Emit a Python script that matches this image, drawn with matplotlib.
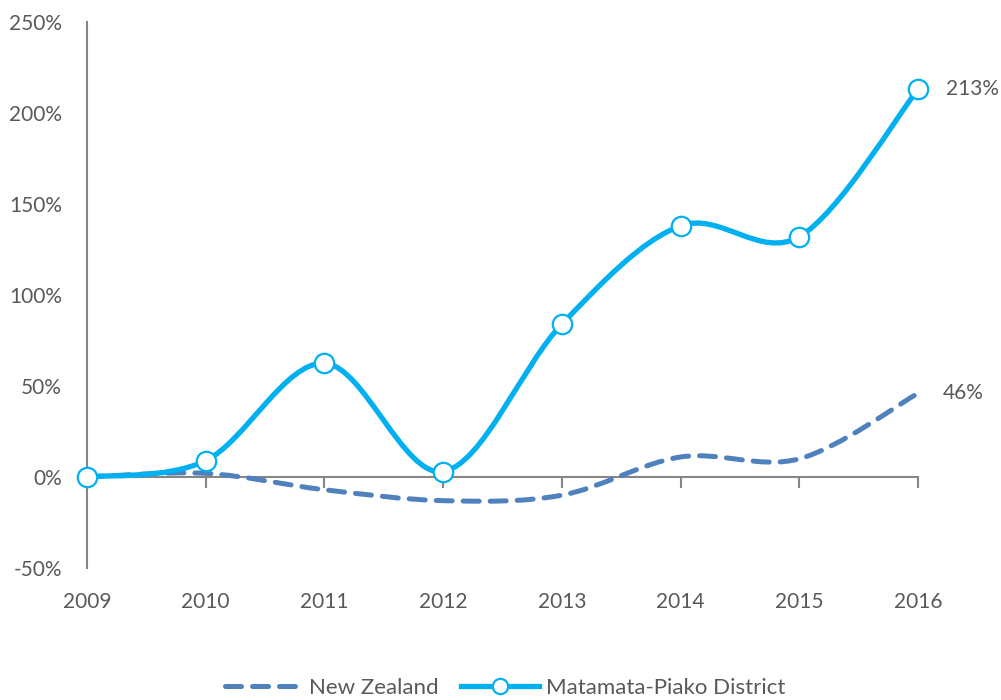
import matplotlib
matplotlib.use("Agg")
import matplotlib.pyplot as plt
from matplotlib.path import Path
from matplotlib.patches import PathPatch
from matplotlib.lines import Line2D
import numpy as np

years = [2009, 2010, 2011, 2012, 2013, 2014, 2015, 2016]
nz = [0, 2, -7, -13, -10, 11, 10, 46]
mp = [0, 9, 62.5, 3, 84, 138, 132, 213]
yticks = [-50, 0, 50, 100, 150, 200, 250]

plt.rcParams['font.family'] = ['Lato', 'DejaVu Sans']
TXT = '#595959'
AX = '#868686'
C_MP = '#00B0F0'
C_NZ = '#4F81BD'
FS = 15

fig = plt.figure(figsize=(10.01, 7.0), dpi=100)
ax = fig.add_axes([87/1001, 1 - 568/700, (918-87)/1001, (568-22)/700])
ax.set_xlim(years[0], years[-1])
ax.set_ylim(-50, 250)


def smooth_path(xs, ys):
    pts = np.column_stack([xs, ys]).astype(float)
    n = len(pts)
    verts = [pts[0]]
    codes = [Path.MOVETO]
    for i in range(n - 1):
        p0 = pts[i - 1] if i > 0 else pts[i]
        p1 = pts[i]
        p2 = pts[i + 1]
        p3 = pts[i + 2] if i + 2 < n else pts[i + 1]
        c1 = p1 + (p2 - p0) / 6.0
        c2 = p2 - (p3 - p1) / 6.0
        verts += [c1, c2, p2]
        codes += [Path.CURVE4] * 3
    return Path(verts, codes)


nz_patch = PathPatch(smooth_path(years, nz), facecolor='none', edgecolor=C_NZ,
                     lw=3.6, linestyle=(0, (3.2, 2.2)), capstyle='round', zorder=3,
                     clip_on=False)
ax.add_patch(nz_patch)
mp_patch = PathPatch(smooth_path(years, mp), facecolor='none', edgecolor=C_MP,
                     lw=3.8, capstyle='round', zorder=4, clip_on=False)
ax.add_patch(mp_patch)
ax.plot(years, mp, linestyle='none', marker='o', ms=14, mfc='white', mec=C_MP,
        mew=1.6, zorder=5, clip_on=False)

# spines
for s in ['top', 'right', 'bottom']:
    ax.spines[s].set_visible(False)
ax.spines['left'].set_color(AX)
ax.spines['left'].set_linewidth(1.5)
ax.set_yticks(yticks)
ax.set_yticklabels([f'{v}%' for v in yticks])
ax.tick_params(axis='y', length=0, pad=18, labelsize=FS, labelcolor=TXT)

ax.set_xticks(years)
ax.set_xticklabels([str(y) for y in years])
ax.tick_params(axis='x', length=0, pad=17, labelsize=FS, labelcolor=TXT)

zero_frac = (0 - (-50)) / 300
sec = ax.secondary_xaxis(zero_frac)
sec.set_xticks(years)
sec.set_xticklabels([])
sec.tick_params(axis='x', direction='out', length=8, width=1.5, color=AX)
sec.spines['bottom'].set_color(AX)
sec.spines['bottom'].set_linewidth(1.5)
for s in ['top', 'left', 'right']:
    sec.spines[s].set_visible(False)

# data labels
ax.annotate(f'{mp[-1]:.0f}%', (years[-1], mp[-1]), xytext=(20, 0),
            textcoords='offset points', va='center', ha='left', fontsize=FS, color=TXT)
ax.annotate(f'{nz[-1]:.0f}%', (years[-1], nz[-1]), xytext=(18, 0),
            textcoords='offset points', va='center', ha='left', fontsize=FS, color=TXT)

handles = [
    Line2D([], [], color=C_NZ, lw=3.6, linestyle=(0, (3.2, 2.2)), dash_capstyle='round'),
    Line2D([], [], color=C_MP, lw=3.8, marker='o', ms=11, mfc='white', mec=C_MP, mew=1.6),
]
leg = fig.legend(handles, ['New Zealand', 'Matamata-Piako District'], loc='center',
                 bbox_to_anchor=(505/1001, 1 - 688/700), ncol=2, frameon=False,
                 fontsize=16, handlelength=3.5, columnspacing=1.0, handletextpad=0.3)
for t in leg.get_texts():
    t.set_color(TXT)

fig.savefig('out.png', dpi=100, facecolor='white')
